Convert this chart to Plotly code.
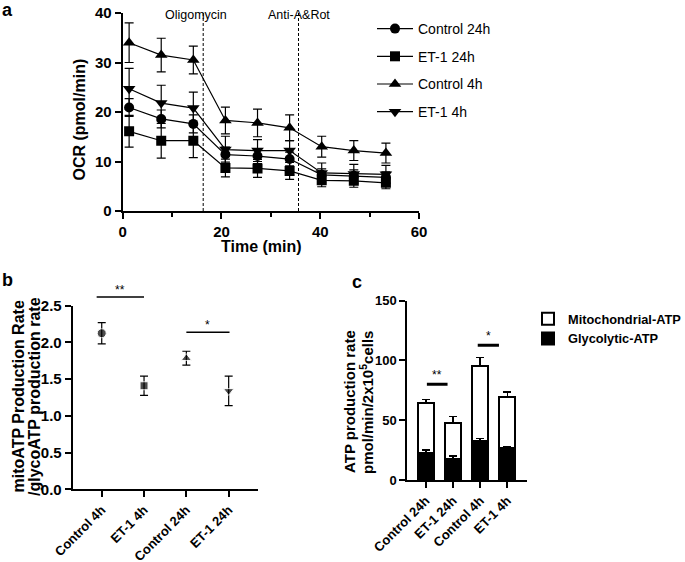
import plotly.graph_objects as go

# ---------------- data ----------------
# Panel a: OCR time course
time_min = [1.3, 7.8, 14.3, 20.8, 27.3, 33.8, 40.3, 46.8, 53.3]
ocr_control_24h = [20.9, 18.6, 17.6, 11.4, 11.1, 10.5, 7.3, 7.1, 6.8]
ocr_control_24h_err = [1.8, 1.8, 1.8, 1.5, 1.5, 1.4, 1.2, 1.2, 1.1]
ocr_et1_24h = [16.1, 14.2, 14.2, 8.7, 8.6, 8.1, 6.2, 6.1, 5.7]
ocr_et1_24h_err = [3.2, 3.5, 3.4, 1.8, 1.8, 1.7, 1.3, 1.3, 1.2]
ocr_control_4h = [34.0, 31.5, 30.5, 18.3, 17.8, 16.8, 13.0, 12.2, 11.7]
ocr_control_4h_err = [4.0, 3.4, 2.8, 2.7, 2.8, 2.6, 2.1, 2.0, 2.0]
ocr_et1_4h = [24.7, 21.8, 20.8, 12.4, 12.2, 12.2, 7.7, 7.5, 7.4]
ocr_et1_4h_err = [4.1, 3.6, 3.2, 2.7, 2.2, 2.0, 2.0, 1.9, 1.8]
inject_times = [16.3, 35.6]
inject_labels = ["Oligomycin", "Anti-A&Rot"]
inject_label_x = [14.8, 35.6]

# Panel b: mitoATP / glycoATP ratio
ratio_groups = ["Control 4h", "ET-1 4h", "Control 24h", "ET-1 24h"]
ratio_values = [2.125, 1.41, 1.785, 1.34]
ratio_errors = [0.145, 0.13, 0.095, 0.20]
ratio_sig_start = [-0.12, 2.0]
ratio_sig_end = [1.0, 3.02]
ratio_sig_y = [2.62, 2.14]
ratio_sig_text = ["**", "*"]

# Panel c: ATP production rate (stacked)
atp_groups = ["Control 24h", "ET-1 24h", "Control 4h", "ET-1 4h"]
glyco_atp = [22.8, 17.8, 32.4, 26.5]
glyco_atp_err = [2.3, 2.2, 2.5, 1.5]
mito_atp = [41.9, 30.2, 63.2, 43.0]
mito_atp_err = [2.8, 5.0, 6.7, 4.1]
atp_sig_start = [0.04, 1.91]
atp_sig_end = [0.80, 2.69]
atp_sig_y = [80.0, 112.7]
atp_sig_text = ["**", "*"]

# ---------------- styling helpers ----------------
FONT = "Liberation Sans, Arial, Helvetica, sans-serif"
W, H = 685, 562


def fx(p):
    return p / W


def fy(p):
    return 1 - p / H


BOLD = dict(family=FONT, color="black", weight="bold")

fig = go.Figure()

# ---------------- panel a ----------------
series_a = [
    ("Control 24h", ocr_control_24h, ocr_control_24h_err, "circle", 10),
    ("ET-1 24h", ocr_et1_24h, ocr_et1_24h_err, "square", 10),
    ("Control 4h", ocr_control_4h, ocr_control_4h_err, "triangle-up", 11),
    ("ET-1 4h", ocr_et1_4h, ocr_et1_4h_err, "triangle-down", 11),
]
for name, yv, ev, sym, sz in series_a:
    fig.add_trace(go.Scatter(
        x=time_min, y=yv, name=name, mode="lines+markers",
        line=dict(color="black", width=1.2),
        marker=dict(symbol=sym, size=sz, color="black"),
        error_y=dict(type="data", array=ev, color="black", thickness=1.2, width=4.5),
        xaxis="x", yaxis="y", legend="legend", legendgroup=name,
    ))

# ---------------- panel b ----------------
fig.add_trace(go.Scatter(
    x=ratio_groups, y=ratio_values, mode="markers", showlegend=False,
    marker=dict(symbol=["circle", "square", "triangle-up", "triangle-down"],
                size=[9, 8, 9, 9], color="black"),
    error_y=dict(type="data", array=ratio_errors, color="black", thickness=1.2, width=4),
    xaxis="x2", yaxis="y2",
))

# ---------------- panel c ----------------
fig.add_trace(go.Bar(
    x=atp_groups, y=glyco_atp, name="Glycolytic-ATP", width=0.58,
    marker=dict(color="black", line=dict(color="black", width=2)),
    error_y=dict(type="data", array=glyco_atp_err, arrayminus=[0] * len(glyco_atp_err),
                 color="black", thickness=1.5, width=4),
    xaxis="x3", yaxis="y3", legend="legend2",
))
fig.add_trace(go.Bar(
    x=atp_groups, y=mito_atp, name="Mitochondrial-ATP", width=0.58,
    marker=dict(color="rgba(255,255,255,0)", line=dict(color="black", width=2)),
    error_y=dict(type="data", array=mito_atp_err, arrayminus=[0] * len(mito_atp_err),
                 color="black", thickness=1.5, width=4),
    xaxis="x3", yaxis="y3", legend="legend2",
))

axis_common = dict(showline=True, linecolor="black", linewidth=2, ticks="outside",
                   tickcolor="black", tickwidth=2, showgrid=False, zeroline=False,
                   automargin=False)

shapes = []
annotations = []

for t in inject_times:
    shapes.append(dict(type="line", xref="x", yref="y", x0=t, x1=t, y0=0, y1=40,
                       line=dict(color="black", width=1, dash="3px,2px")))
for lx, lab in zip(inject_label_x, inject_labels):
    annotations.append(dict(text=lab, xref="x", yref="paper", x=lx, y=fy(15),
                            showarrow=False, xanchor="center", yanchor="middle",
                            font=dict(family=FONT, size=12.5, color="black")))

ymax_b = 2.5
for s0, s1, sy, st in zip(ratio_sig_start, ratio_sig_end, ratio_sig_y, ratio_sig_text):
    shapes.append(dict(type="line", xref="x2", yref="y2 domain", x0=s0, x1=s1,
                       y0=sy / ymax_b, y1=sy / ymax_b, line=dict(color="black", width=1.5)))
    annotations.append(dict(text=st, xref="x2", yref="y2 domain", x=(s0 + s1) / 2,
                            y=sy / ymax_b, yshift=7, showarrow=False, yanchor="middle",
                            font=dict(family=FONT, size=12, color="black")))

for s0, s1, sy, st in zip(atp_sig_start, atp_sig_end, atp_sig_y, atp_sig_text):
    shapes.append(dict(type="line", xref="x3", yref="y3", x0=s0, x1=s1,
                       y0=sy, y1=sy, line=dict(color="black", width=3)))
    annotations.append(dict(text=st, xref="x3", yref="y3", x=(s0 + s1) / 2,
                            y=sy, yshift=9, showarrow=False, yanchor="middle",
                            font=dict(family=FONT, size=12, color="black")))

# panel letters
for letter, px, py in [("a", 7, 10), ("b", 7, 280), ("c", 357, 282)]:
    annotations.append(dict(text=letter, xref="paper", yref="paper", x=fx(px), y=fy(py),
                            showarrow=False, xanchor="center", yanchor="middle",
                            font=dict(size=18, **BOLD)))


# axis titles
def title(text, px, py, size, angle=0):
    annotations.append(dict(text=text, xref="paper", yref="paper", x=fx(px), y=fy(py),
                            showarrow=False, xanchor="center", yanchor="middle",
                            textangle=angle, font=dict(size=size, **BOLD)))


title("OCR (pmol/min)", 79.5, 120, 16, -90)
title("Time (min)", 261, 246, 16)
title("mitoATP Production Rate", 17.5, 397, 16, -90)
title("/glycoATP production rate", 34, 397, 16, -90)
title("ATP production rate", 349, 402, 15, -90)
title("pmol/min/2x10<sup>5</sup>cells", 366, 402, 15, -90)

fig.update_layout(
    template="none",
    width=W, height=H, margin=dict(l=0, r=0, t=0, b=0, autoexpand=False),
    paper_bgcolor="white", plot_bgcolor="white",
    font=dict(family=FONT, color="black"),
    barmode="stack", showlegend=True,
    xaxis=dict(domain=[fx(122.7), fx(419)], range=[0, 60], anchor="y",
               tickvals=[0, 20, 40, 60], ticklen=6,
               minor=dict(ticks="outside", tickvals=[10, 30, 50], ticklen=4,
                          tickwidth=2, tickcolor="black"),
               tickfont=dict(size=15, **BOLD), **axis_common),
    yaxis=dict(domain=[fy(211), fy(13)], range=[0, 40], anchor="x",
               tickvals=[0, 10, 20, 30, 40], ticklen=6,
               tickfont=dict(size=15, **BOLD), **axis_common),
    xaxis2=dict(domain=[fx(72.7), fx(257.7)], range=[-0.686, 3.686], anchor="y2",
                type="category", ticklen=6, tickangle=-45,
                tickfont=dict(size=13, **BOLD), **axis_common),
    yaxis2=dict(domain=[fy(489.3), fy(305.7)], range=[0, ymax_b], anchor="x2",
                tickvals=[0, 0.5, 1.0, 1.5, 2.0, 2.5], tickformat=".1f", ticklen=6,
                tickfont=dict(size=15, **BOLD), **axis_common),
    xaxis3=dict(domain=[fx(407.3), fx(526.7)], range=[-0.68, 3.71], anchor="y3",
                type="category", ticklen=6, tickangle=-45,
                tickfont=dict(size=13, **BOLD), **axis_common),
    yaxis3=dict(domain=[fy(480), fy(300.7)], range=[0, 150], anchor="x3",
                tickvals=[0, 50, 100, 150], ticklen=6,
                tickfont=dict(size=13, **BOLD), **axis_common),
    legend=dict(x=fx(372), y=fy(13), xanchor="left", yanchor="top",
                font=dict(family=FONT, size=14, color="black"),
                itemwidth=36, tracegroupgap=6.5, bgcolor="rgba(0,0,0,0)"),
    legend2=dict(x=fx(528), y=fy(304), xanchor="left", yanchor="top",
                 traceorder="reversed",
                 font=dict(size=12.8, **BOLD), bgcolor="rgba(0,0,0,0)"),
    shapes=shapes, annotations=annotations,
)

fig.write_html("out.html", config={"displayModeBar": False},
               post_script="document.body.style.margin='0px';")
